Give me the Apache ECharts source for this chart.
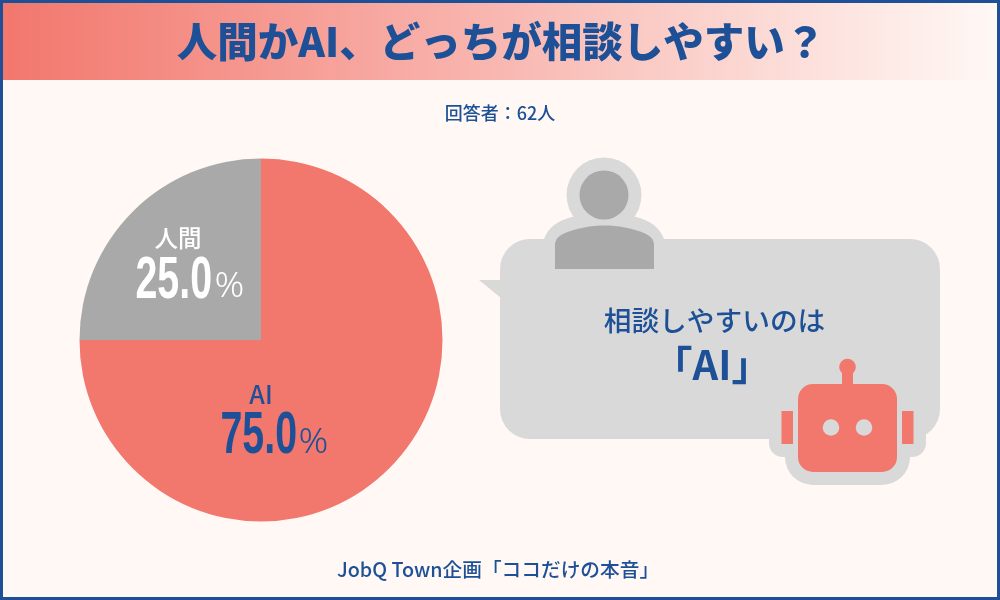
<!DOCTYPE html>
<html><head><meta charset="utf-8">
<style>html,body{margin:0;padding:0;background:#fff8f5}#c{width:1000px;height:600px}</style>
<script src="https://cdn.jsdelivr.net/npm/echarts@6/dist/echarts.min.js"></script>
</head><body><div id="c"></div>
<script>
const categories = ['AI', '人間'];
const values = [75.0, 25.0];
const titleText = '人間かAI、どっちが相談しやすい？';
const respondents = '回答者：62人';
const bubbleLines = ['相談しやすいのは', '「AI」'];
const sourceText = 'JobQ Town企画「ココだけの本音」';

const NAVY = '#1d5096', CORAL = '#f2776d', GRAY = '#a9a9a9', LIGHT = '#d9d9d9', BG = '#fff8f5';
const JP = '"Noto Sans CJK JP"';
const nameLayout = { 'AI': { pos: [261, 394], size: 25 }, '人間': { pos: [178, 238], size: 23.5 } };
const valueLayout = { 'AI': { num: [220.5, 436.5], pct: [298.5, 443] }, '人間': { num: [135.5, 281], pct: [214.5, 287] } };
const labelColor = { 'AI': NAVY, '人間': '#ffffff' };

echarts.graphic.registerShape('personOuter', echarts.graphic.extendPath('M544 239 C549 226 558 221 572 217 C592 210 616 210 636 217 C650 221 659 226 664 239 Z', {}));
echarts.graphic.registerShape('personInner', echarts.graphic.extendPath('M555 269 L555 245 C555 240 558 236 565 233 C590 223 619 223 644 233 C651 236 654 240 654 245 L654 269 Z', {}));

const valueTexts = categories.flatMap((name, i) => [
  { type: 'text', z: 6, x: valueLayout[name].num[0], y: valueLayout[name].num[1], scaleX: 0.655,
    style: { text: values[i].toFixed(1), fill: labelColor[name],
      font: 'bold 60px "Liberation Sans"', align: 'left', verticalAlign: 'middle' } },
  { type: 'text', z: 6, x: valueLayout[name].pct[0], y: valueLayout[name].pct[1], scaleX: 1.05,
    style: { text: '%', fill: labelColor[name],
      font: '300 35px "Noto Sans"', align: 'left', verticalAlign: 'middle' } }
]);

const chart = echarts.init(document.getElementById('c'), null, { renderer: 'canvas' });
chart.setOption({
  animation: false,
  backgroundColor: BG,
  graphic: { elements: [
    { type: 'rect', z: 0, shape: { x: 3, y: 3, width: 994, height: 77 },
      style: { fill: { type: 'linear', x: 0, y: 0, x2: 1, y2: 0, colorStops: [
        { offset: 0, color: CORAL }, { offset: 1, color: BG }] } } },
    { type: 'text', z: 5, x: 501, y: 42, style: { text: titleText, fill: NAVY,
      font: '900 40.5px ' + JP, align: 'center', verticalAlign: 'middle' } },
    { type: 'text', z: 5, x: 500, y: 113, style: { text: respondents, fill: NAVY,
      font: '500 18px ' + JP, align: 'center', verticalAlign: 'middle' } },
    { type: 'text', z: 5, x: 498, y: 570, style: { text: sourceText, fill: NAVY,
      font: '500 19.7px ' + JP, align: 'center', verticalAlign: 'middle' } },

    // speech bubble
    { type: 'rect', z: 1, shape: { x: 500, y: 239, width: 440, height: 200, r: 30 }, style: { fill: LIGHT } },
    { type: 'polygon', z: 1, shape: { points: [[479, 280], [501, 280], [501, 298]] }, style: { fill: LIGHT } },

    // person
    { type: 'circle', z: 1, shape: { cx: 604, cy: 195, r: 37.5 }, style: { fill: LIGHT } },
    { type: 'personOuter', z: 1, style: { fill: LIGHT } },
    { type: 'circle', z: 2, shape: { cx: 604, cy: 195, r: 24.5 }, style: { fill: GRAY } },
    { type: 'personInner', z: 2, style: { fill: GRAY } },

    // bubble text
    { type: 'text', z: 5, x: 714.5, y: 320, style: { text: bubbleLines[0], fill: NAVY,
      font: '500 27.7px ' + JP, align: 'center', verticalAlign: 'middle' } },
    { type: 'text', z: 5, x: 712, y: 365, style: { text: bubbleLines[1], fill: NAVY,
      font: '700 40px ' + JP, align: 'center', verticalAlign: 'middle' } },

    // robot
    { type: 'rect', z: 1, shape: { x: 785, y: 371, width: 125, height: 114, r: 28 }, style: { fill: LIGHT } },
    { type: 'rect', z: 1, shape: { x: 769, y: 398, width: 157, height: 59, r: 14 }, style: { fill: LIGHT } },
    { type: 'rect', z: 3, shape: { x: 798, y: 384, width: 99, height: 88, r: 15 }, style: { fill: CORAL } },
    { type: 'rect', z: 3, shape: { x: 842, y: 367, width: 11, height: 18 }, style: { fill: CORAL } },
    { type: 'circle', z: 3, shape: { cx: 847.5, cy: 367, r: 8.3 }, style: { fill: CORAL } },
    { type: 'rect', z: 3, shape: { x: 781.5, y: 411, width: 11.5, height: 33 }, style: { fill: CORAL } },
    { type: 'rect', z: 3, shape: { x: 902, y: 411, width: 11.5, height: 33 }, style: { fill: CORAL } },
    { type: 'circle', z: 4, shape: { cx: 831, cy: 427.5, r: 8.3 }, style: { fill: LIGHT } },
    { type: 'circle', z: 4, shape: { cx: 864, cy: 427.5, r: 8.3 }, style: { fill: LIGHT } },

    ...valueTexts,

    // frame
    { type: 'rect', z: 10, shape: { x: 1.5, y: 1.5, width: 997, height: 597 }, style: { fill: 'none', stroke: NAVY, lineWidth: 3 } }
  ] },
  series: [{
    type: 'pie',
    center: [261, 340],
    radius: [0, 181.5],
    startAngle: 90,
    clockwise: true,
    silent: true,
    avoidLabelOverlap: false,
    labelLine: { show: false },
    itemStyle: { borderWidth: 0 },
    label: {
      show: true,
      position: 'inside',
      fontFamily: JP,
      fontWeight: 500,
      formatter: p => p.name
    },
    labelLayout: p => {
      const name = categories[p.dataIndex];
      return { x: nameLayout[name].pos[0], y: nameLayout[name].pos[1], align: 'center', verticalAlign: 'middle' };
    },
    data: categories.map((name, i) => ({
      name, value: values[i],
      itemStyle: { color: i === 0 ? CORAL : GRAY },
      label: { color: labelColor[name], fontSize: nameLayout[name].size }
    }))
  }]
});
</script></body></html>
